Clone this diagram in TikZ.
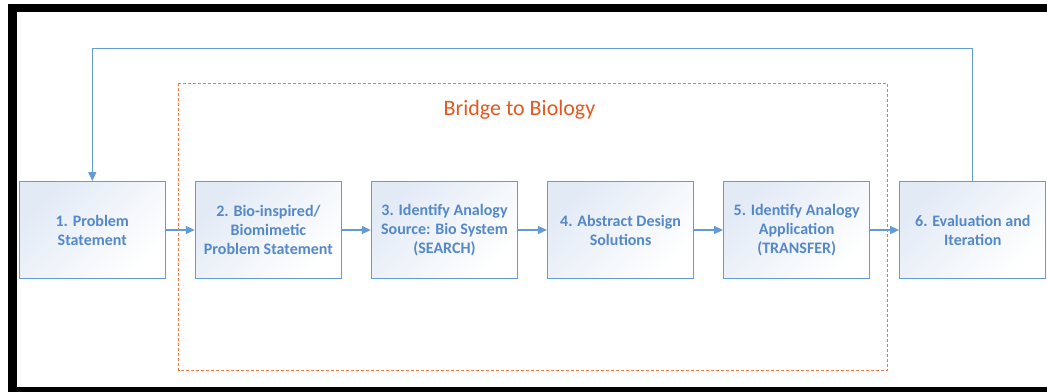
\documentclass[tikz,border=0pt]{standalone}
\usepackage{fontspec}
\setmainfont{Carlito}
\usetikzlibrary{arrows.meta}
\definecolor{boxline}{RGB}{98,155,213}
\definecolor{boxtext}{RGB}{84,136,200}
\definecolor{boxfill}{RGB}{226,234,246}
\definecolor{orangeline}{RGB}{238,120,70}
\definecolor{orangetext}{RGB}{226,88,30}
\tikzset{
  stepbox/.style={draw=boxline, line width=1.3pt, minimum width=146pt, minimum height=96.6pt,
    top color=boxfill, bottom color=white, shading angle=45,
    text=boxtext, font=\fontsize{16pt}{19pt}\selectfont\bfseries, align=center, inner sep=0pt},
  arr/.style={draw=boxline, line width=1.3pt, -{Triangle[length=9pt,width=8pt]}}
}
\begin{document}
\begin{tikzpicture}[x=1pt,y=-1pt]
\useasboundingbox (0,0) rectangle (1047,391);
\draw[line width=8.3pt] (1070,8.2) -- (12.5,8.2) -- (12.5,390.9) -- (1070,390.9);
\draw[orangeline, line width=1pt, dash pattern=on 3pt off 2pt] (178.7,83.3) rectangle (887.3,370.7);
\node[text=orangetext, font=\fontsize{22pt}{26pt}\selectfont, anchor=base] (title) at (519.5,115) {Bridge to Biology};
\node[stepbox] (b1) at (92.3,230) {1. Problem\\Statement};
\node[stepbox] (b2) at (268.4,230) {2. Bio-inspired/\\Biomimetic\\Problem Statement};
\node[stepbox] (b3) at (444.5,230) {3. Identify Analogy\\Source: Bio System\\(SEARCH)};
\node[stepbox] (b4) at (620.6,230) {4. Abstract Design\\Solutions};
\node[stepbox] (b5) at (796.7,230) {5. Identify Analogy\\Application\\(TRANSFER)};
\node[stepbox] (b6) at (972.8,230) {6. Evaluation and\\Iteration};
\draw[arr] (b1) -- (b2);
\draw[arr] (b2) -- (b3);
\draw[arr] (b3) -- (b4);
\draw[arr] (b4) -- (b5);
\draw[arr] (b5) -- (b6);
\coordinate (loop) at (530,48.3);
\draw[arr] (b6.north) |- (loop) -| (b1.north);
\end{tikzpicture}
\end{document}
